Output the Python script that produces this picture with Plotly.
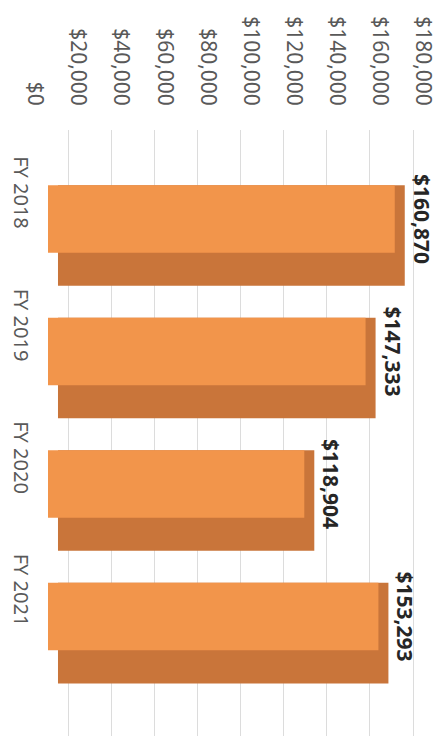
import plotly.graph_objects as go

anni = ['FY 2018', 'FY 2019', 'FY 2020', 'FY 2021']
valori = [160870, 147333, 118904, 153293]
etichette = ['$160,870', '$147,333', '$118,904', '$153,293']
tick_valori = [0, 20000, 40000, 60000, 80000, 100000, 120000, 140000, 160000, 180000]

arancio = '#F2954B'
arancio_scuro = '#C9753A'
font_base = 'Noto Sans'

fig = go.Figure()

# ombra 3D (faccia inferiore + laterale), su asse spostato di qualche pixel
fig.add_trace(go.Bar(
    x=valori, y=anni, orientation='h',
    width=0.76, offset=-0.38,
    marker=dict(color=arancio_scuro, line=dict(width=0)),
    hoverinfo='skip', showlegend=False
))

# barra trasparente solo per le etichette dei valori
fig.add_trace(go.Bar(
    x=valori, y=anni, orientation='h',
    width=0.51, offset=-0.38,
    marker=dict(color='rgba(0,0,0,0)', line=dict(width=0)),
    text=etichette, textposition='outside', textangle=90,
    constraintext='none', cliponaxis=False,
    textfont=dict(family=font_base, size=21, color='#262626', weight='bold'),
    hoverinfo='skip', showlegend=False
))

# faccia frontale
fig.add_trace(go.Bar(
    x=valori, y=anni, orientation='h', xaxis='x3',
    width=0.51, offset=-0.38,
    marker=dict(color=arancio, line=dict(width=0)),
    showlegend=False
))

# traccia vuota solo per far disegnare la griglia della parete di fondo
fig.add_trace(go.Scatter(x=[], y=[], xaxis='x2', showlegend=False, hoverinfo='skip'))

fig.update_layout(
    width=446, height=736,
    margin=dict(l=40, r=18, t=122, b=8, autoexpand=False),
    paper_bgcolor='white', plot_bgcolor='white',
    barmode='overlay',
    font=dict(family=font_base, size=20, color='#595959'),
    xaxis=dict(
        range=[-4636, 175364], showticklabels=False,
        showgrid=False, zeroline=False, showline=False, ticks='', automargin=False
    ),
    xaxis2=dict(
        overlaying='x', anchor='y', side='top',
        range=[10663, 190663], tickvals=tick_valori[1:],
        showticklabels=False, showgrid=True, gridcolor='#dcdcdc', gridwidth=1,
        zeroline=False, showline=False, ticks='', automargin=False
    ),
    xaxis3=dict(
        overlaying='x', anchor='y', side='top',
        range=[0, 180000],
        tickvals=tick_valori, tickformat='$,.0f',
        tickangle=90, ticklabelshift=-13, ticklabelstandoff=20,
        tickfont=dict(size=21),
        showgrid=False, zeroline=False, showline=False, ticks='', automargin=False
    ),
    yaxis=dict(
        type='category', categoryorder='array', categoryarray=anni,
        range=[3.777, -0.796],
        tickangle=90, ticklabelshift=40, ticklabelstandoff=13,
        showgrid=False, zeroline=False, showline=False, ticks='', automargin=False
    )
)

fig.write_html("out.html")
